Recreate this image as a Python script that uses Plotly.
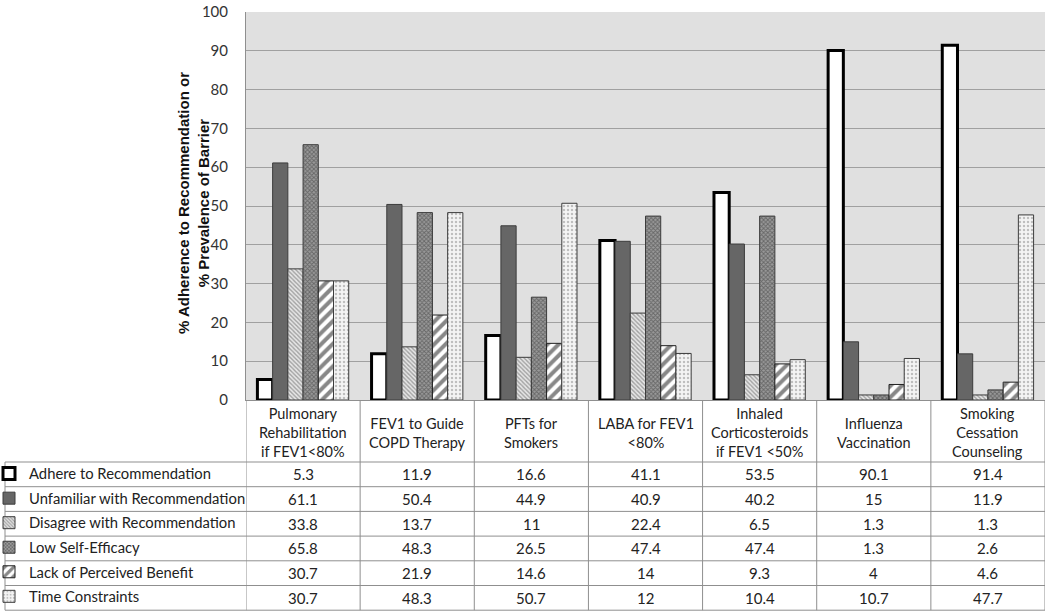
import plotly.graph_objects as go

categories = [
    "Pulmonary<br>Rehabilitation<br>if FEV1<80%",
    "FEV1 to Guide<br>COPD Therapy",
    "PFTs for<br>Smokers",
    "LABA for FEV1<br><80%",
    "Inhaled<br>Corticosteroids<br>if FEV1 <50%",
    "Influenza<br>Vaccination",
    "Smoking<br>Cessation<br>Counseling",
]
series_names = [
    "Adhere to Recommendation",
    "Unfamiliar with Recommendation",
    "Disagree with Recommendation",
    "Low Self-Efficacy",
    "Lack of Perceived Benefit",
    "Time Constraints",
]
adhere = [5.3, 11.9, 16.6, 41.1, 53.5, 90.1, 91.4]
unfamiliar = [61.1, 50.4, 44.9, 40.9, 40.2, 15, 11.9]
disagree = [33.8, 13.7, 11, 22.4, 6.5, 1.3, 1.3]
low_self_efficacy = [65.8, 48.3, 26.5, 47.4, 47.4, 1.3, 2.6]
lack_benefit = [30.7, 21.9, 14.6, 14, 9.3, 4, 4.6]
time_constraints = [30.7, 48.3, 50.7, 12, 10.4, 10.7, 47.7]
table_text = [
    ["5.3", "11.9", "16.6", "41.1", "53.5", "90.1", "91.4"],
    ["61.1", "50.4", "44.9", "40.9", "40.2", "15", "11.9"],
    ["33.8", "13.7", "11", "22.4", "6.5", "1.3", "1.3"],
    ["65.8", "48.3", "26.5", "47.4", "47.4", "1.3", "2.6"],
    ["30.7", "21.9", "14.6", "14", "9.3", "4", "4.6"],
    ["30.7", "48.3", "50.7", "12", "10.4", "10.7", "47.7"],
]
all_values = [adhere, unfamiliar, disagree, low_self_efficacy, lack_benefit, time_constraints]

styles = [
    dict(color="white", line=dict(color="black", width=3)),
    dict(color="#666666", line=dict(color="#3c3c3c", width=1)),
    dict(color="#e0e0e0", line=dict(color="#3c3c3c", width=1),
         pattern=dict(shape="\\", fgcolor="#5a5a5a", bgcolor="#e6e6e6", size=3, solidity=0.45)),
    dict(color="#555555", line=dict(color="#3c3c3c", width=1),
         pattern=dict(shape="x", fgcolor="#333333", bgcolor="#9a9a9a", size=3, solidity=0.5)),
    dict(color="white", line=dict(color="#202020", width=1),
         pattern=dict(shape="/", fgcolor="#111111", bgcolor="white", size=8, solidity=0.5)),
    dict(color="#eeeeee", line=dict(color="#3c3c3c", width=1),
         pattern=dict(shape=".", fgcolor="#8a8a8a", bgcolor="#f4f4f4", size=4, solidity=0.3)),
]

FONT = "Lato"
x_idx = list(range(len(categories)))

fig = go.Figure()
for i, (name, vals) in enumerate(zip(series_names, all_values)):
    fig.add_trace(go.Bar(
        x=x_idx, y=vals, name=name, marker=styles[i],
        legendgroup=f"g{i}", hoverinfo="y+name",
    ))

# geometry (pixels)
W, H = 1050, 615
L, R, T, B = 246, 5, 12, 215
plot_w = W - L - R
plot_h = H - T - B
y_bottom_px = H - B


def py(px):
    return (y_bottom_px - px) / plot_h


def pxx(px):
    return (px - L) / plot_w


row_top = 462.0
row_h = 24.7
table_bottom = row_top + 6 * row_h
line_color = "#8f8f8f"

shapes = []
for k in range(7):
    yy = py(row_top + k * row_h)
    shapes.append(dict(type="line", xref="paper", yref="paper", x0=pxx(5), x1=1.0,
                       y0=yy, y1=yy, line=dict(color=line_color, width=1)))
shapes.append(dict(type="line", xref="paper", yref="paper", x0=pxx(5), x1=pxx(5),
                   y0=py(row_top), y1=py(table_bottom), line=dict(color=line_color, width=1)))
for i in range(len(categories) + 1):
    shapes.append(dict(type="line", xref="x", yref="paper", x0=i - 0.5, x1=i - 0.5,
                       y0=0, y1=py(table_bottom), line=dict(color=line_color, width=1)))

annotations = []
for i, c in enumerate(categories):
    annotations.append(dict(x=i, y=py(433), xref="x", yref="paper", text=c, showarrow=False,
                            xanchor="center", yanchor="middle",
                            font=dict(family=FONT, size=14.5, color="#222222")))
for r, row in enumerate(table_text):
    for i, t in enumerate(row):
        annotations.append(dict(x=i, y=py(row_top + (r + 0.5) * row_h), xref="x", yref="paper",
                                text=t, showarrow=False, xanchor="center", yanchor="middle",
                                font=dict(family=FONT, size=15, color="#222222")))
annotations.append(dict(
    x=pxx(193), y=py(203), xref="paper", yref="paper",
    text="% Adherence to Recommendation or<br>% Prevalence of Barrier",
    textangle=-90, showarrow=False, xanchor="center", yanchor="middle",
    font=dict(family="Liberation Sans", size=15, color="#111111", weight="bold"),
))

fig.update_layout(
    width=W, height=H,
    margin=dict(l=L, r=R, t=T, b=B, autoexpand=False),
    paper_bgcolor="white",
    plot_bgcolor="#e0e0e0",
    barmode="group",
    bargap=0.2,
    bargroupgap=0.0,
    shapes=shapes,
    annotations=annotations,
    legend=dict(
        x=pxx(-11), y=py(row_top - 4.5), xanchor="left", yanchor="top",
        xref="paper", yref="paper",
        font=dict(family=FONT, size=14.8, color="#222222"),
        bgcolor="rgba(0,0,0,0)", borderwidth=0,
        tracegroupgap=2.3, itemwidth=30, traceorder="grouped",
    ),
    xaxis=dict(range=[-0.5, len(categories) - 0.5], showticklabels=False, ticks="",
               showgrid=False, showline=True, linecolor="#8f8f8f", zeroline=False),
    yaxis=dict(range=[0, 100], dtick=10, showgrid=True, gridcolor="#a0a0a0", gridwidth=1,
               showline=True, linecolor="#8f8f8f", ticks="", ticklabelstandoff=14,
               zeroline=False,
               tickfont=dict(family=FONT, size=15, color="#333333")),
)

fig.write_html("out.html", config={"displayModeBar": False},
               post_script="document.body.style.margin='0';document.body.style.overflow='hidden';")
